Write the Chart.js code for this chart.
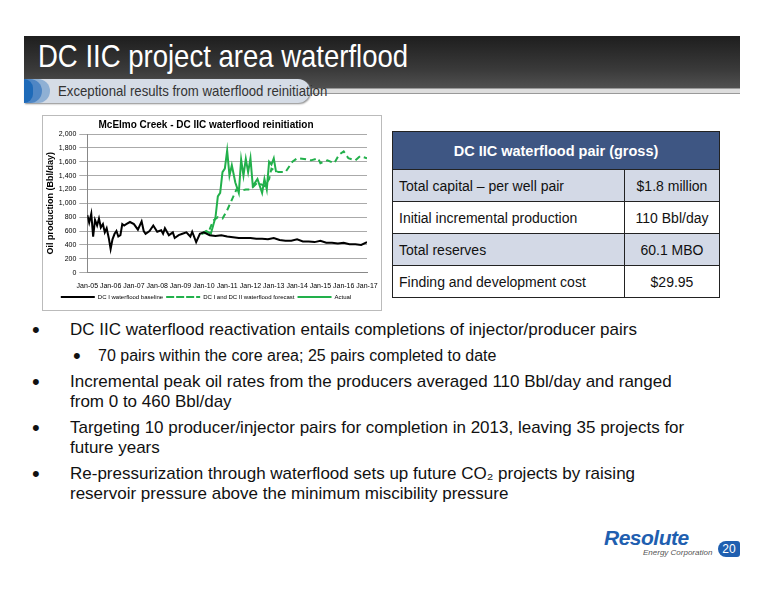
<!DOCTYPE html>
<html><head><meta charset="utf-8">
<script src="https://cdn.jsdelivr.net/npm/chart.js@4"></script>
<style>
body{margin:0;width:776px;height:600px;background:#fff;font-family:"Liberation Sans",Arial,sans-serif;position:relative;overflow:hidden}
#bar{position:absolute;left:24px;top:36px;width:716px;height:56px;background:linear-gradient(#1e1e1e,#3a3a3a 60%,#555)}
#title{position:absolute;left:38px;top:38px;color:#fff;font-size:32px;transform:scaleX(0.86);transform-origin:left;white-space:nowrap}
#line{position:absolute;left:300px;top:88px;width:440px;height:4px;background:#ddd;border-top:1px solid #999;border-bottom:1px solid #999}
#pill{position:absolute;left:24px;top:79px;width:286px;height:24px;background:#d5dce6;border-radius:0 12px 12px 0;box-shadow:1px 1px 2px #888}
#pill .b1{position:absolute;left:0;top:0;width:26px;height:24px;border-radius:0 12px 12px 0;background:#8fb0d4}
#pill .b2{position:absolute;left:0;top:0;width:18px;height:24px;border-radius:0 12px 12px 0;background:#4f86c4}
#pill .b3{position:absolute;left:0;top:0;width:9px;height:24px;border-radius:0 12px 12px 0;background:#1e6ab8}
#sub{position:absolute;left:58px;top:82px;font-size:15px;color:#333;transform:scaleX(0.88);transform-origin:left;white-space:nowrap}
#chartbox{position:absolute;left:42px;top:115px;width:340px;height:196px;border:1px solid #bbb;box-sizing:border-box}
table{position:absolute;left:392px;top:131px;width:328px;border-collapse:collapse;font-size:14px;color:#111}
td{border:1px solid #222;height:31px;padding:0 6px}
th{background:#3e5683;color:#fff;height:35px;font-size:14.5px;border:1px solid #222}
tr.s td{background:#d3d9e6}
td.v{text-align:center;width:82px}
ul{position:absolute;left:28px;top:320px;margin:0;padding:0;list-style:none;font-size:17px;color:#111;width:670px}
li{position:relative;padding-left:42px;line-height:20px;margin-bottom:6px}
li:before{content:"•";position:absolute;left:4px;top:0;font-size:22px}
li.l2{padding-left:70px;font-size:16px}
li.l2:before{left:45px}
#logo{position:absolute;left:604px;top:526px;color:#1f5fb0;font-weight:bold;font-style:italic;font-size:21px;letter-spacing:-0.5px}
#corp{position:absolute;left:643px;top:548px;color:#555;font-style:italic;font-size:8px}
#pg{position:absolute;left:718px;top:541px;width:22px;height:16px;background:#1f5fb0;color:#fff;font-size:12px;text-align:center;line-height:16px;border-radius:8px 3px 3px 8px}
</style></head><body>
<div id="bar"></div><div id="line"></div>
<div id="title">DC IIC project area waterflood</div>
<div id="pill"><div class="b1"></div><div class="b2"></div><div class="b3"></div></div>
<div id="sub">Exceptional results from waterflood reinitiation</div>
<div id="chartbox"><canvas id="c" width="338" height="194"></canvas></div>
<table>
<tr><th colspan="2">DC IIC waterflood pair (gross)</th></tr>
<tr class="s"><td>Total capital – per well pair</td><td class="v">$1.8 million</td></tr>
<tr><td>Initial incremental production</td><td class="v">110 Bbl/day</td></tr>
<tr class="s"><td>Total reserves</td><td class="v">60.1 MBO</td></tr>
<tr><td>Finding and development cost</td><td class="v">$29.95</td></tr>
</table>
<ul>
<li>DC IIC waterflood reactivation entails completions of injector/producer pairs</li>
<li class="l2">70 pairs within the core area; 25 pairs completed to date</li>
<li>Incremental peak oil rates from the producers averaged 110 Bbl/day and ranged from 0 to 460 Bbl/day</li>
<li>Targeting 10 producer/injector pairs for completion in 2013, leaving 35 projects for future years</li>
<li>Re-pressurization through waterflood sets up future CO₂ projects by raising reservoir pressure above the minimum miscibility pressure</li>
</ul>
<div id="logo">Resolute</div><div id="corp">Energy Corporation</div><div id="pg">20</div>
<script>
const tickLabels=["Jan-05","Jan-06","Jan-07","Jan-08","Jan-09","Jan-10","Jan-11","Jan-12","Jan-13","Jan-14","Jan-15","Jan-16","Jan-17"];
const baseX=[2005.0,2005.08,2005.17,2005.25,2005.33,2005.42,2005.5,2005.58,2005.67,2005.75,2005.83,2005.92,2006.0,2006.08,2006.17,2006.25,2006.33,2006.42,2006.5,2006.58,2006.67,2006.83,2007.0,2007.17,2007.33,2007.42,2007.5,2007.67,2007.83,2008.0,2008.17,2008.25,2008.33,2008.5,2008.67,2008.75,2008.92,2009.08,2009.25,2009.42,2009.5,2009.67,2009.83,2010.0,2010.25,2010.5,2010.75,2011.0,2011.25,2011.5,2011.75,2012.0,2012.25,2012.5,2012.75,2013.0,2013.25,2013.5,2013.75,2014.0,2014.25,2014.5,2014.75,2015.0,2015.25,2015.5,2015.75,2016.0,2016.25,2016.5,2016.75,2017.0];
const baseY=[830,720,850,520,760,680,780,650,700,580,640,500,340,480,560,600,520,540,700,680,700,730,700,620,740,600,560,600,680,590,610,560,640,540,580,500,540,560,580,520,590,440,560,580,540,530,540,520,510,500,500,500,490,490,480,500,470,460,460,480,450,450,440,460,430,430,420,430,410,410,400,440];
const fcX=[2009.9,2010.2,2010.4,2010.6,2010.8,2011.0,2011.2,2011.4,2011.6,2011.8,2012.0,2012.3,2012.6,2012.8,2012.9,2013.2,2013.5,2013.8,2014.0,2014.3,2014.6,2014.9,2015.0,2015.3,2015.6,2015.8,2016.0,2016.2,2016.5,2016.7,2017.0];
const fcY=[560,580,750,800,780,900,1050,1200,1180,1200,1200,1300,1250,1350,1500,1450,1450,1600,1650,1640,1620,1650,1580,1620,1580,1700,1750,1650,1620,1680,1650];
const actX=[2009.9,2010.1,2010.3,2010.5,2010.6,2010.7,2010.8,2010.9,2011.0,2011.1,2011.2,2011.35,2011.5,2011.6,2011.7,2011.8,2011.9,2012.0,2012.1,2012.3,2012.5,2012.6,2012.7,2012.8,2012.9,2013.0,2013.1];
const actY=[560,600,560,800,1100,1150,1450,1500,1760,1400,1550,1300,1150,1630,1400,1640,1450,1650,1250,1350,1150,1350,1200,1600,1560,1650,1450];
const pts=(xs,ys)=>xs.map((x,i)=>({x,y:ys[i]}));
new Chart(document.getElementById('c'),{type:'line',
data:{datasets:[
{label:'DC I waterflood baseline',data:pts(baseX,baseY),borderColor:'#000',backgroundColor:'#000',borderWidth:2,pointRadius:0,tension:0},
{label:'DC I and DC II waterflood forecast',data:pts(fcX,fcY),borderColor:'#22b04b',backgroundColor:'#22b04b',borderDash:[6,4],borderWidth:2,pointRadius:0},
{label:'Actual',data:pts(actX,actY),borderColor:'#22b04b',backgroundColor:'#22b04b',borderWidth:2,pointRadius:0}]},
options:{responsive:false,animation:false,layout:{padding:{right:14,top:1,bottom:0,left:2}},
plugins:{title:{display:true,text:'McElmo Creek - DC IIC waterflood reinitiation',font:{size:10,weight:'bold',family:'Liberation Sans'},color:'#000',padding:{top:2,bottom:3}},
legend:{position:'bottom',labels:{boxWidth:34,boxHeight:0,font:{size:6},color:'#000',padding:3}}},
scales:{x:{type:'linear',min:2005,max:2017,ticks:{stepSize:1,padding:1,font:{size:7},color:'#000',maxRotation:0,autoSkip:false,callback:v=>tickLabels[Math.round(v-2005)]},grid:{display:false},border:{color:'#888'}},
y:{min:0,max:2000,ticks:{stepSize:200,font:{size:7},color:'#000',callback:v=>v.toLocaleString('en-US')},grid:{color:'#aaa'},border:{color:'#888'},title:{display:true,text:'Oil production (Bbl/day)',font:{size:9,weight:'bold'},color:'#000',padding:0}}}}});
</script>
</body></html>
